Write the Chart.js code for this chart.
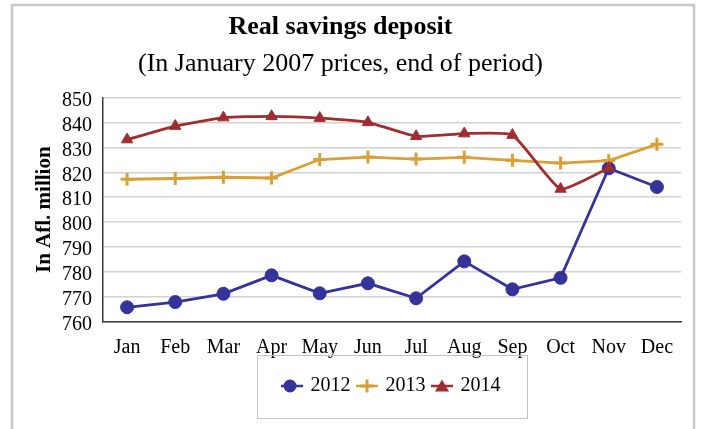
<!DOCTYPE html>
<html>
<head>
<meta charset="utf-8">
<script src="https://cdn.jsdelivr.net/npm/chart.js@4"></script>
<style>
  html, body { margin: 0; padding: 0; background: #ffffff; }
  canvas { display: block; }
</style>
</head>
<body>
<canvas id="chart" width="701" height="429"></canvas>
<script>
// Month categories on the x axis
const months = ['Jan', 'Feb', 'Mar', 'Apr', 'May', 'Jun', 'Jul', 'Aug', 'Sep', 'Oct', 'Nov', 'Dec'];

// Real savings deposits, Afl. million (January 2007 prices, end of period)
const deposits2012 = [765.9, 768.0, 771.3, 778.7, 771.5, 775.5, 769.5, 784.3, 773.1, 777.7, 821.6, 814.1];
const deposits2013 = [817.2, 817.5, 818.0, 817.7, 825.1, 826.1, 825.3, 826.0, 824.8, 823.7, 824.7, 831.2];
const deposits2014 = [833.1, 838.5, 841.9, 842.4, 841.7, 840.0, 834.4, 835.5, 834.9, 813.3, 821.7, null];

// Value axis range
const yMin = 760;
const yMax = 850;
const yStep = 10;

const seriesNames = ['2012', '2013', '2014'];
const seriesColors = ['#333399', '#D8A036', '#A02D2F'];
const seriesStyles = ['circle', 'cross', 'triangle'];

const serif = "'Liberation Serif', 'Times New Roman', serif";

// Small line-with-marker swatches for the legend
function makeSwatch(color, style) {
  const c = document.createElement('canvas');
  c.width = 22; c.height = 16;
  const g = c.getContext('2d');
  g.strokeStyle = color;
  g.fillStyle = color;
  g.lineWidth = 2.5;
  g.beginPath(); g.moveTo(0, 8); g.lineTo(22, 8); g.stroke();
  if (style === 'circle') {
    g.beginPath(); g.arc(9, 8, 6.5, 0, Math.PI * 2); g.fill();
  } else if (style === 'cross') {
    g.lineWidth = 3;
    g.beginPath(); g.moveTo(11, 1.5); g.lineTo(11, 14.5); g.moveTo(4, 8); g.lineTo(18, 8); g.stroke();
  } else {
    g.beginPath(); g.moveTo(11, 1.5); g.lineTo(18, 13.5); g.lineTo(4, 13.5); g.closePath(); g.fill();
  }
  return c;
}
const swatches = seriesColors.map((col, i) => makeSwatch(col, seriesStyles[i]));

// Outer frame and legend box
const framePlugin = {
  id: 'frame',
  beforeDraw(chart) {
    const ctx = chart.ctx;
    ctx.save();
    ctx.fillStyle = '#ffffff';
    ctx.fillRect(0, 0, chart.width, chart.height);
    ctx.strokeStyle = '#c8c8c8';
    ctx.lineWidth = 2.5;
    ctx.strokeRect(12, 5, 682, 460);
    ctx.restore();
  },
  afterDraw(chart) {
    const lg = chart.legend;
    if (!lg) return;
    const ctx = chart.ctx;
    const cx = lg.left + lg.width / 2;
    ctx.save();
    ctx.strokeStyle = '#c4c4c4';
    ctx.lineWidth = 1;
    ctx.strokeRect(Math.round(cx - 135) + 0.5, Math.round(lg.top - 13) + 0.5, 270, 63);
    ctx.restore();
  }
};

const datasets = [deposits2012, deposits2013, deposits2014].map((data, i) => ({
  label: seriesNames[i],
  data: data,
  borderColor: seriesColors[i],
  backgroundColor: seriesColors[i],
  borderWidth: 2.8,
  pointStyle: seriesStyles[i],
  pointRadius: 6.5,
  pointHoverRadius: 6.5,
  pointBorderWidth: i === 1 ? 3 : 1,
  tension: i === 2 ? 0.15 : 0,
  spanGaps: false,
  order: 3 - i
}));

new Chart(document.getElementById('chart'), {
  type: 'line',
  data: { labels: months, datasets: datasets },
  plugins: [framePlugin],
  options: {
    responsive: false,
    animation: false,
    devicePixelRatio: 1,
    layout: { padding: { top: 12, right: 20, bottom: 23, left: 0 } },
    plugins: {
      tooltip: { enabled: false },
      title: {
        display: true,
        text: 'Real savings deposit',
        color: '#000000',
        font: { family: serif, size: 26, weight: 'bold', lineHeight: 1.2 },
        padding: { top: 0, bottom: 0 }
      },
      subtitle: {
        display: true,
        text: '(In January 2007 prices, end of period)',
        color: '#000000',
        font: { family: serif, size: 26, weight: 'normal', lineHeight: 1.2 },
        padding: { top: 5, bottom: 18 }
      },
      legend: {
        display: true,
        position: 'bottom',
        fullSize: false,
        labels: {
          color: '#000000',
          font: { family: serif, size: 20 },
          usePointStyle: true,
          pointStyleWidth: 17,
          padding: 8,
          sort: (a, b) => a.datasetIndex - b.datasetIndex,
          generateLabels(chart) {
            const items = Chart.defaults.plugins.legend.labels.generateLabels(chart);
            items.forEach(it => { it.pointStyle = swatches[it.datasetIndex]; });
            return items;
          }
        }
      }
    },
    scales: {
      x: {
        offset: true,
        grid: { display: false, drawTicks: false },
        border: { display: true, color: '#3a3a3a', width: 1.5 },
        ticks: {
          color: '#000000',
          font: { family: serif, size: 20, lineHeight: 1.2 },
          padding: 14,
          maxRotation: 0,
          autoSkip: false
        },
        afterFit(scale) { scale.height = 46; }
      },
      y: {
        min: yMin,
        max: yMax,
        grid: { color: '#d2d2d2', lineWidth: 1.5, drawTicks: false },
        border: { display: true, color: '#3a3a3a', width: 1.5 },
        ticks: {
          stepSize: yStep,
          autoSkip: false,
          color: '#000000',
          font: { family: serif, size: 20, lineHeight: 1.2 },
          padding: 11,
          labelOffset: 3
        },
        title: {
          display: true,
          text: 'In Afl. million',
          color: '#000000',
          font: { family: serif, size: 21, weight: 'bold', lineHeight: 1.2 },
          padding: { top: 32, bottom: 0 }
        },
        afterFit(scale) { scale.width = 103; }
      }
    }
  }
});
</script>
</body>
</html>
